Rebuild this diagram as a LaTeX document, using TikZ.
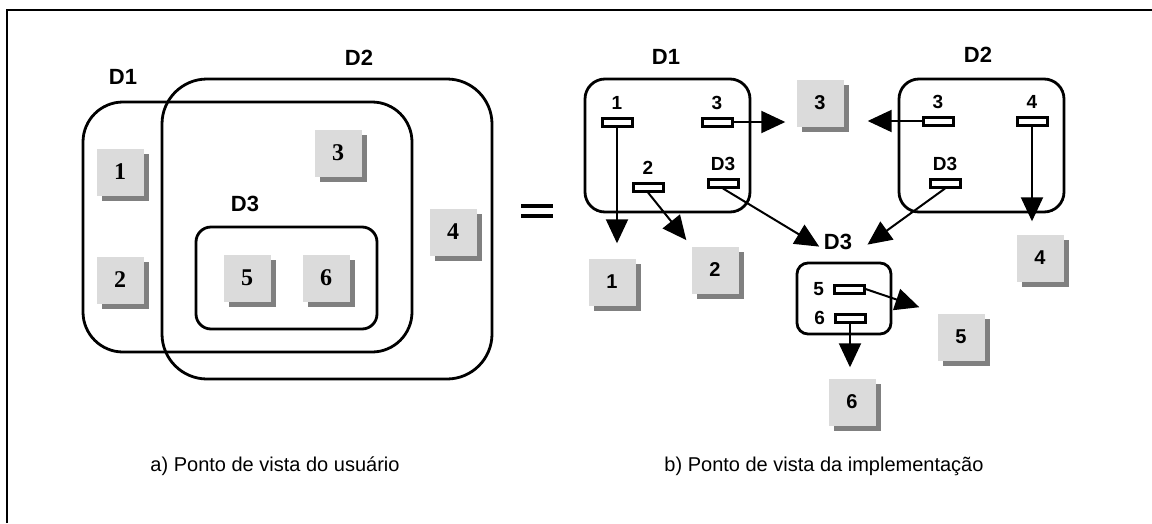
\documentclass[tikz,border=0pt]{standalone}
\usepackage{fontspec}
\setmainfont{Liberation Sans}
\newfontfamily\serifnum{Liberation Serif}
\usetikzlibrary{arrows.meta,shadows}

\begin{document}
\begin{tikzpicture}[x=1pt,y=-1pt,
  box/.style={draw,line width=2.8pt,inner sep=0pt},
  tile/.style={fill=black!14,minimum size=47pt,inner sep=0pt,
    font=\bfseries\fontsize{20}{22}\selectfont,
    drop shadow={shadow xshift=5pt,shadow yshift=-5pt,fill=black!50,opacity=1}},
  serif/.style={font=\serifnum\bfseries\fontsize{24}{26}\selectfont},
  slot/.style={draw,fill=white,line width=3pt,minimum width=30pt,minimum height=8pt,inner sep=0pt},
  dname/.style={font=\bfseries\fontsize{22}{24}\selectfont},
  every label/.style={font=\bfseries\fontsize{19}{21}\selectfont},
  link/.style={line width=2pt,-{Triangle[length=24pt,width=22pt]}}]
\useasboundingbox (0,0) rectangle (1152,523);
% frame
\draw[line width=2.5pt] (7,523) -- (7,10) -- (1152,10);

% a) the user's view
\draw[box,rounded corners=40pt] (83,102) rectangle (412,352);
\draw[box,rounded corners=45pt] (162,79) rectangle (492,379);
\draw[box,rounded corners=15pt] (196,227) rectangle (377,329);
\node[dname] (ad1) at (123,77) {D1};
\node[dname] (ad2) at (359,58) {D2};
\node[dname] (ad3) at (245,204) {D3};
\foreach \n/\x/\y in {1/120/172,2/120/280,3/338/153,4/453/232,5/247/278,6/326/278}
  \node[tile,serif] (a\n) at (\x,\y) {\n};
\draw[line width=4pt] (521,206) -- (553,206) (521,216) -- (553,216);
\node[font=\fontsize{20}{24}\selectfont] (capa) at (275,466) {a) Ponto de vista do usuário};

% b) the implementation's view
\node[box,rounded corners=20pt,minimum width=165pt,minimum height=133pt] (r1) at (667.5,145.5) {};
\node[box,rounded corners=20pt,minimum width=165pt,minimum height=133pt] (r2) at (981.5,145.5) {};
\node[box,rounded corners=11pt,minimum width=94pt,minimum height=71pt] (r3) at (844,298.5) {};
\node[dname] (bd1) at (666,57) {D1};
\node[dname] (bd2) at (978,55) {D2};
\node[dname] (bd3) at (838,242) {D3};
\foreach \n/\x/\y in {1/612/282,2/715/270,3/820/103,4/1040/258,5/961/337,6/852/402}
  \node[tile] (b\n) at (\x,\y) {\n};
% slots of D1, D2 and D3
\foreach \s/\x/\y/\t in {s1/617/122/1,s3/717/122/3,s2/648/187/2,sd/723/183/D3,
                         t3/938/121/3,t4/1032/121/4,td/945/183/D3}
  \node[slot,label={[label distance=3pt]above:\t}] (\s) at (\x,\y) {};
\node[slot,label={[label distance=5pt]left:5}] (u5) at (849,289) {};
\node[slot,label={[label distance=5pt]left:6}] (u6) at (850,318) {};
% pointers
\draw[link,shorten >=15pt] (s1.south) -- (s1.south |- b1.north);
\draw[link,shorten >=8pt] (s2.south) -- (b2.north west);
\draw[link,shorten >=11pt] (s3.east) -- (s3.east -| b3.west);
\draw[link,shorten >=29pt] (sd.south) -- (r3.north);
\draw[link,shorten >=24pt] (t3.west) -- (t3.west -| b3.east);
\draw[link,shorten >=13pt] (t4.south) -- (t4.south |- b4.north);
\draw[link,shorten >=29pt] (td.south) -- (r3.north);
\draw[link,shorten >=19pt] (u5.east) -- (b5.north west);
\draw[link,shorten >=11pt] (u6.south) -- (u6.south |- b6.north);
\node[font=\fontsize{20}{24}\selectfont] (capb) at (824,466) {b) Ponto de vista da implementação};
\end{tikzpicture}
\end{document}
